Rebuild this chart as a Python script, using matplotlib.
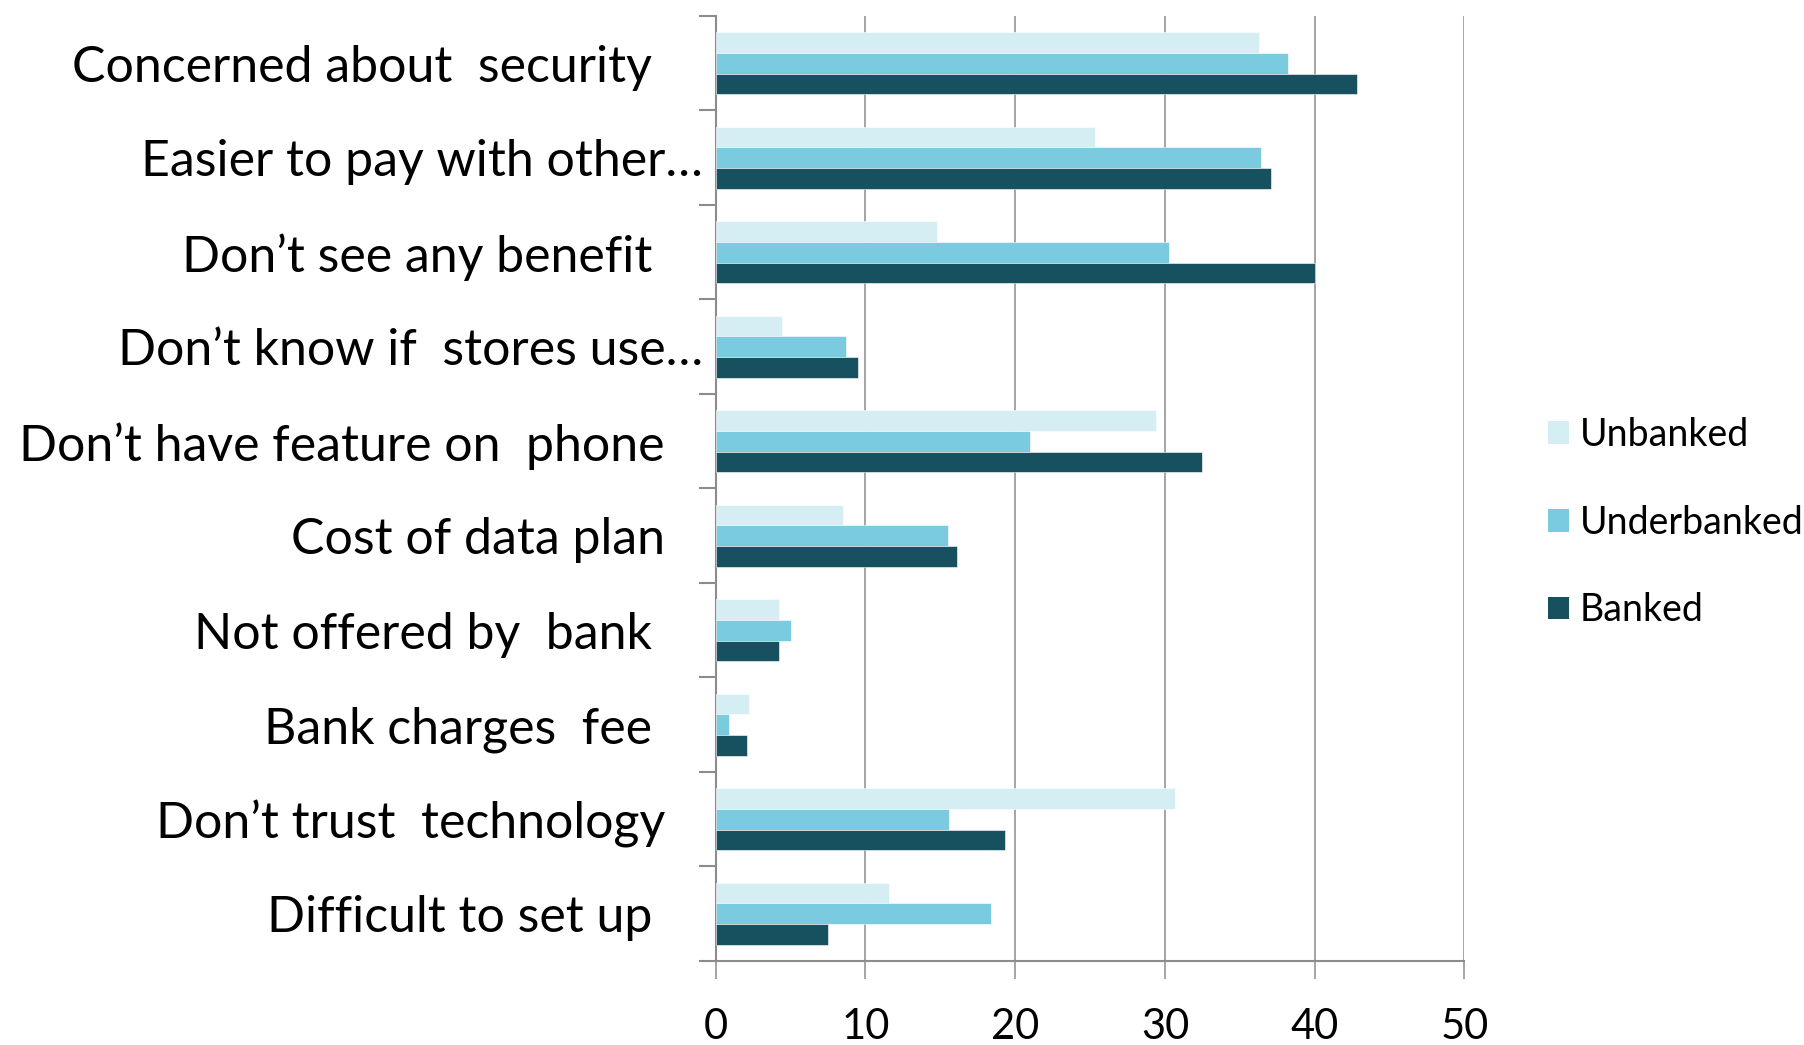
import matplotlib
matplotlib.use("Agg")
import matplotlib.pyplot as plt
import numpy as np
from matplotlib.patches import Patch

categories = [
    "Concerned about  security    ",
    "Easier to pay with other…",
    "Don’t see any benefit    ",
    "Don’t know if  stores use…",
    "Don’t have feature on  phone   ",
    "Cost of data plan   ",
    "Not offered by  bank    ",
    "Bank charges  fee    ",
    "Don’t trust  technology   ",
    "Difficult to set up    ",
]
series_names = ["Unbanked", "Underbanked", "Banked"]
unbanked = [36.3, 25.3, 14.8, 4.4, 29.4, 8.5, 4.2, 2.2, 30.7, 11.6]
underbanked = [38.2, 36.4, 30.3, 8.7, 21.0, 15.5, 5.0, 0.9, 15.6, 18.4]
banked = [42.8, 37.1, 40.0, 9.5, 32.5, 16.1, 4.2, 2.1, 19.3, 7.5]
x_ticks = [0, 10, 20, 30, 40, 50]

colors = ["#D4EEF4", "#7BCBE0", "#17505F"]
axis_grey = "#8C8C8C"

plt.rcParams["font.family"] = ["Lato", "DejaVu Sans"]

fig = plt.figure(figsize=(18.04, 10.45), dpi=100)
ax = fig.add_axes([0.3967, 0.0804, 0.8118 - 0.3967, 0.9847 - 0.0804])

n = len(categories)
y = np.arange(n)
h = 0.22
for k, vals in enumerate([unbanked, underbanked, banked]):
    ax.barh(y + (k - 1) * h, vals, height=h, color=colors[k],
            edgecolor="white", linewidth=0.4, zorder=3)

ax.set_xlim(0, 50)
ax.set_ylim(n - 0.5, -0.5)

# vertical gridlines
ax.set_xticks(x_ticks)
ax.set_xticklabels([str(t) for t in x_ticks], fontsize=30)
ax.grid(axis="x", color=axis_grey, linewidth=1.1, zorder=0)
ax.tick_params(axis="x", direction="out", length=13, width=1.1,
               color=axis_grey, pad=21)

# category boundaries as major ticks, labels centred as minor ticks
ax.set_yticks(np.arange(-0.5, n, 1.0))
ax.set_yticklabels([])
ax.set_yticks(y, minor=True)
ax.set_yticklabels(categories, minor=True, fontsize=36)
ax.tick_params(axis="y", which="major", direction="out", length=12,
               width=1.5, color=axis_grey)
ax.tick_params(axis="y", which="minor", length=0, pad=9)

for side in ["top", "right"]:
    ax.spines[side].set_visible(False)
for side in ["left", "bottom"]:
    ax.spines[side].set_color(axis_grey)
    ax.spines[side].set_linewidth(1.5)

handles = [Patch(facecolor=c, edgecolor="none") for c in colors]
fig.legend(handles, series_names, loc="center left",
           bbox_to_anchor=(0.858, 0.5), frameon=False, fontsize=27,
           handlelength=0.56, handleheight=0.56, handletextpad=0.3,
           labelspacing=1.38, borderpad=0, borderaxespad=0)

fig.savefig("out.png", dpi=100)
